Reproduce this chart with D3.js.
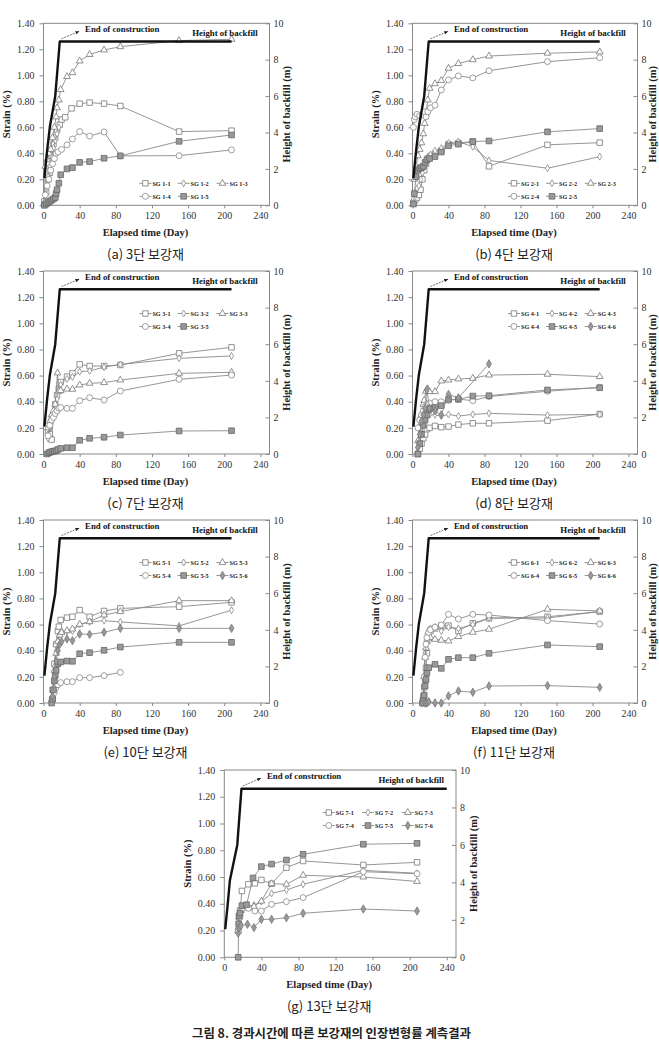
<!DOCTYPE html>
<html>
<head>
<meta charset="utf-8">
<script src="https://d3js.org/d3.v7.min.js"></script>
<style>
body { margin: 0; background: #fff; }
</style>
</head>
<body>
<script>

// backfill height (m) against elapsed day
var bfDays = [1, 4, 7, 13, 18, 208];
var bfHeight = [1.5, 3.0, 4.3, 6.0, 9.0, 9.0];
var bfDaysG = [1, 4, 6, 14, 18.5, 240];
var bfHeightG = [1.5, 3.0, 4.1, 6.0, 9.0, 9.0];

var xTicks = [0, 40, 80, 120, 160, 200, 240];
var strainTicks = [0, 0.2, 0.4, 0.6, 0.8, 1.0, 1.2, 1.4];
var heightTicks = [0, 2, 4, 6, 8, 10];

// strain gauges [day, strain %]
// (a) 3단
var sg1_1 = [[1,0.03],[3,0.1],[5,0.2],[7,0.25],[9,0.38],[11,0.47],[13,0.52],[15,0.58],[18,0.62],[20,0.66],[24,0.677],[31,0.746],[40,0.782],[51,0.79],[67,0.782],[85,0.764],[150,0.567],[208,0.574]];
var sg1_2 = [[1,0.02],[3,0.12],[5,0.22],[7,0.3],[9,0.38],[11,0.44],[13,0.5],[15,0.55],[17,0.6]];
var sg1_3 = [[1,0.02],[2,0.3],[4,0.35],[6,0.4],[8,0.43],[10,0.52],[12,0.6],[14,0.68],[15,0.75],[17,0.81],[19,0.89],[26,0.99],[32,1.02],[40,1.11],[51,1.16],[67,1.195],[85,1.22],[150,1.267],[208,1.277]];
var sg1_4 = [[2,0.08],[4,0.15],[6,0.2],[8,0.27],[10,0.32],[12,0.36],[14,0.4],[16,0.41],[20,0.43],[26,0.465],[32,0.51],[40,0.567],[51,0.533],[67,0.564],[85,0.38],[150,0.382],[208,0.426]];
var sg1_5 = [[1,0],[3,0.01],[5,0.02],[7,0.03],[9,0.04],[11,0.05],[13,0.06],[14,0.09],[15,0.12],[17,0.17],[19,0.235],[26,0.28],[32,0.29],[40,0.33],[51,0.336],[67,0.362],[85,0.38],[150,0.492],[208,0.541]];

// (b) 4단
var sg2_1 = [[1,0.02],[3,0.04],[5,0.06],[7,0.08],[9,0.12],[11,0.2],[13,0.27],[15,0.32],[17,0.36],[20,0.38],[25,0.4],[32,0.42],[40,0.47],[51,0.48],[67,0.49],[85,0.3],[150,0.465],[208,0.482]];
var sg2_2 = [[1,0.05],[3,0.1],[5,0.13],[7,0.15],[9,0.2],[11,0.25],[13,0.3],[15,0.34],[17,0.37],[20,0.39],[25,0.42],[32,0.44],[40,0.48],[51,0.49],[67,0.45],[85,0.345],[150,0.285],[208,0.374]];
var sg2_3 = [[2,0.2],[4,0.3],[6,0.38],[8,0.43],[10,0.48],[12,0.55],[13.5,0.63],[15,0.71],[17,0.81],[19,0.9],[25,0.935],[32,0.96],[40,1.054],[51,1.09],[67,1.12],[85,1.148],[150,1.17],[208,1.18]];
var sg2_4 = [[1,0.6],[2,0.66],[3,0.68],[5,0.7],[8,0.69],[11,0.7],[13,0.72],[15,0.68],[17,0.72],[20,0.75],[25,0.77],[32,0.887],[40,0.965],[51,0.995],[67,0.98],[85,1.035],[150,1.105],[208,1.135]];
var sg2_5 = [[1,0.01],[2,0.09],[4,0.22],[6,0.27],[8,0.285],[10,0.29],[12,0.3],[14,0.33],[16,0.35],[19,0.36],[25,0.375],[32,0.41],[40,0.458],[51,0.47],[67,0.49],[85,0.495],[150,0.565],[208,0.59]];

// (c) 7단
var sg3_1 = [[5,0.17],[7,0.15],[9,0.11],[11,0.3],[13,0.38],[15,0.45],[17,0.5],[19,0.55],[26,0.592],[32,0.617],[40,0.686],[51,0.673],[67,0.673],[85,0.681],[150,0.77],[208,0.816]];
var sg3_2 = [[5,0.12],[7,0.2],[9,0.28],[11,0.3],[13,0.35],[15,0.42],[17,0.5],[19,0.53],[26,0.575],[32,0.59],[40,0.63],[51,0.635],[67,0.665],[85,0.685],[150,0.732],[208,0.75]];
var sg3_3 = [[5,0.2],[7,0.25],[9,0.3],[11,0.33],[13,0.38],[15.5,0.62],[17,0.48],[19,0.485],[26,0.497],[32,0.495],[40,0.528],[51,0.541],[67,0.546],[85,0.566],[150,0.617],[208,0.625]];
var sg3_4 = [[5,0.14],[7,0.22],[9,0.26],[11,0.28],[13,0.31],[15,0.33],[17,0.35],[19,0.355],[26,0.349],[32,0.349],[40,0.408],[51,0.431],[67,0.413],[85,0.482],[150,0.571],[208,0.604]];
var sg3_5 = [[4,0],[6,0.01],[8,0.015],[10,0.02],[12,0.022],[14,0.025],[16,0.035],[19,0.043],[26,0.048],[32,0.048],[40,0.105],[51,0.12],[67,0.128],[85,0.145],[150,0.176],[208,0.178]];

// (d) 8단
var sg4_1 = [[6,0],[8,0.04],[10,0.08],[12,0.12],[14,0.15],[16,0.19],[19,0.2],[25,0.215],[32,0.205],[40,0.21],[51,0.225],[67,0.235],[85,0.235],[150,0.255],[208,0.305]];
var sg4_2 = [[6,0.05],[8,0.15],[10,0.22],[12,0.27],[14,0.29],[16,0.31],[19,0.3],[25,0.3],[32,0.29],[40,0.303],[51,0.29],[67,0.303],[85,0.311],[150,0.298],[208,0.303]];
var sg4_3 = [[6,0.1],[8,0.2],[10,0.3],[12,0.38],[13,0.41],[15,0.48],[16.7,0.5],[19,0.477],[25,0.477],[32,0.559],[40,0.566],[51,0.574],[67,0.579],[85,0.604],[150,0.61],[208,0.592]];
var sg4_4 = [[6,0.2],[8,0.26],[10,0.3],[12,0.33],[14,0.36],[16,0.38],[19,0.39],[25,0.4],[32,0.4],[40,0.41],[51,0.42],[67,0.408],[85,0.44],[150,0.48],[208,0.51]];
var sg4_5 = [[6,0],[8,0.08],[10,0.15],[12,0.22],[14,0.26],[16,0.3],[18,0.34],[20,0.35],[25,0.355],[32,0.37],[40,0.418],[51,0.418],[67,0.443],[85,0.446],[150,0.49],[208,0.507]];
var sg4_6 = [[6,0.05],[8,0.15],[10,0.25],[12,0.3],[14,0.35],[16,0.49],[19,0.35],[25,0.33],[32,0.3],[40,0.456],[51,0.43],[85,0.69]];

// (e) 10단
var sg5_1 = [[10,0.1],[12,0.3],[14,0.45],[16,0.55],[17,0.584],[19,0.635],[26,0.653],[32,0.66],[40,0.711],[51,0.66],[67,0.704],[85,0.724],[150,0.737],[208,0.77]];
var sg5_2 = [[10,0.1],[12,0.28],[14,0.4],[16,0.48],[18,0.53],[20,0.55],[26,0.55],[32,0.55],[40,0.6],[51,0.62],[67,0.63],[85,0.62],[150,0.59],[208,0.71]];
var sg5_3 = [[10,0.05],[12,0.25],[14,0.38],[16,0.47],[18,0.52],[20,0.54],[26,0.553],[32,0.566],[40,0.602],[51,0.622],[67,0.673],[85,0.699],[150,0.783],[208,0.783]];
var sg5_4 = [[10,0.02],[12,0.08],[14,0.12],[16,0.14],[19,0.156],[26,0.163],[32,0.163],[40,0.194],[51,0.194],[67,0.209],[85,0.235]];
var sg5_5 = [[9,0],[10,0.03],[11,0.1],[12,0.17],[13,0.21],[14,0.25],[16,0.3],[19,0.314],[26,0.321],[32,0.319],[40,0.377],[51,0.385],[67,0.403],[85,0.428],[150,0.464],[208,0.464]];
var sg5_6 = [[10,0.05],[12,0.2],[14,0.32],[16,0.4],[18,0.45],[20,0.47],[26,0.49],[32,0.477],[40,0.528],[51,0.525],[67,0.541],[85,0.571],[150,0.571],[208,0.571]];

// (f) 11단
var sg6_1 = [[12,0.05],[13,0.12],[14,0.18],[15,0.27],[16,0.38],[18,0.5],[20,0.55],[25,0.57],[32,0.592],[40,0.592],[51,0.551],[67,0.61],[85,0.648],[150,0.66],[208,0.699]];
var sg6_2 = [[12,0.05],[13,0.2],[14,0.38],[15,0.48],[16,0.53],[18,0.56],[20,0.57],[25,0.58],[32,0.55],[40,0.58],[51,0.57],[67,0.6],[85,0.65],[150,0.65],[208,0.7]];
var sg6_3 = [[12,0.05],[13,0.2],[14,0.35],[15,0.42],[16,0.47],[18,0.49],[20,0.5],[25,0.487],[32,0.48],[40,0.474],[51,0.508],[67,0.541],[85,0.564],[150,0.717],[208,0.704]];
var sg6_4 = [[12,0.05],[13,0.2],[14,0.35],[15,0.45],[16,0.5],[18,0.54],[20,0.56],[25,0.58],[32,0.597],[40,0.678],[51,0.643],[67,0.678],[85,0.673],[150,0.63],[208,0.604]];
var sg6_5 = [[11,0],[12,0.02],[13,0.06],[14,0.13],[15,0.18],[16,0.23],[18,0.27],[25,0.296],[32,0.265],[40,0.334],[51,0.347],[67,0.347],[85,0.38],[150,0.444],[208,0.431]];
var sg6_6 = [[11,0],[14,0],[16,0],[18,0.01],[25,0],[32,0],[40,0.054],[51,0.092],[67,0.082],[85,0.13],[150,0.133],[208,0.12]];

// (g) 13단
var sg7_1 = [[15,0.2],[16,0.3],[17,0.35],[19,0.496],[26,0.546],[33,0.553],[40,0.578],[51,0.55],[67,0.67],[85,0.72],[150,0.69],[208,0.71]];
var sg7_2 = [[15,0.2],[16,0.3],[18,0.36],[24,0.38],[32,0.39],[40,0.416],[51,0.478],[67,0.503],[85,0.546],[150,0.65],[208,0.628]];
var sg7_3 = [[15,0.2],[16,0.3],[18,0.35],[24,0.37],[32,0.38],[40,0.42],[51,0.55],[67,0.546],[85,0.613],[150,0.6],[208,0.567]];
var sg7_4 = [[15,0.19],[16,0.25],[17,0.3],[19,0.361],[26,0.366],[33,0.346],[40,0.346],[51,0.396],[67,0.416],[85,0.446],[150,0.64],[208,0.625]];
var sg7_5 = [[15,0],[15.5,0.25],[16,0.31],[17,0.33],[19,0.386],[24,0.393],[31,0.593],[40,0.678],[51,0.697],[67,0.727],[85,0.77],[150,0.845],[208,0.852]];
var sg7_6 = [[15,0.18],[16,0.22],[18,0.237],[25,0.247],[32,0.222],[40,0.284],[51,0.284],[67,0.296],[85,0.329],[150,0.361],[208,0.346]];

var panels = [
  {cap: "(a) 3단 보강재", box: [43.5, 269.5, 23.3, 205.3], legTop: false, bx: bfDays, by: bfHeight,
   series: [["SG 1-1", sg1_1], ["SG 1-2", sg1_2], ["SG 1-3", sg1_3], ["SG 1-4", sg1_4], ["SG 1-5", sg1_5]]},
  {cap: "(b) 4단 보강재", box: [412.5, 637.5, 23.3, 205.3], legTop: false, bx: bfDays, by: bfHeight,
   series: [["SG 2-1", sg2_1], ["SG 2-2", sg2_2], ["SG 2-3", sg2_3], ["SG 2-4", sg2_4], ["SG 2-5", sg2_5]]},
  {cap: "(c) 7단 보강재", box: [43.5, 269.5, 271, 454], legTop: true, bx: bfDays, by: bfHeight,
   series: [["SG 3-1", sg3_1], ["SG 3-2", sg3_2], ["SG 3-3", sg3_3], ["SG 3-4", sg3_4], ["SG 3-5", sg3_5]]},
  {cap: "(d) 8단 보강재", box: [412.5, 637.5, 271, 454], legTop: true, bx: bfDays, by: bfHeight,
   series: [["SG 4-1", sg4_1], ["SG 4-2", sg4_2], ["SG 4-3", sg4_3], ["SG 4-4", sg4_4], ["SG 4-5", sg4_5], ["SG 4-6", sg4_6]]},
  {cap: "(e) 10단 보강재", box: [43.5, 269.5, 520, 703], legTop: true, bx: bfDays, by: bfHeight,
   series: [["SG 5-1", sg5_1], ["SG 5-2", sg5_2], ["SG 5-3", sg5_3], ["SG 5-4", sg5_4], ["SG 5-5", sg5_5], ["SG 5-6", sg5_6]]},
  {cap: "(f) 11단 보강재", box: [412.5, 637.5, 520, 703], legTop: true, bx: bfDays, by: bfHeight,
   series: [["SG 6-1", sg6_1], ["SG 6-2", sg6_2], ["SG 6-3", sg6_3], ["SG 6-4", sg6_4], ["SG 6-5", sg6_5], ["SG 6-6", sg6_6]]},
  {cap: "(g) 13단 보강재", box: [224.3, 456, 770, 957.3], legTop: true, bx: bfDaysG, by: bfHeightG,
   series: [["SG 7-1", sg7_1], ["SG 7-2", sg7_2], ["SG 7-3", sg7_3], ["SG 7-4", sg7_4], ["SG 7-5", sg7_5], ["SG 7-6", sg7_6]]}
];

// marker style per gauge number (x-1 ... x-6)
var styles = [
  {sym: d3.symbolSquare, size: 30, fill: "#fff", stroke: "#777"},
  {sym: d3.symbolDiamond, size: 14, fill: "#fff", stroke: "#888"},
  {sym: d3.symbolTriangle, size: 20, fill: "#fff", stroke: "#777"},
  {sym: d3.symbolCircle, size: 28, fill: "#fff", stroke: "#888"},
  {sym: d3.symbolSquare, size: 32, fill: "#999", stroke: "#666"},
  {sym: d3.symbolDiamond, size: 20, fill: "#999", stroke: "#777"}
];

var serif = "'Liberation Serif', 'Times New Roman', serif";
var kr = "'Noto Sans CJK KR', sans-serif";

var svg = d3.select("body").append("svg")
    .attr("width", 659)
    .attr("height", 1043);

svg.append("defs").append("marker")
    .attr("id", "arr")
    .attr("viewBox", "0 0 10 10")
    .attr("refX", 8).attr("refY", 5)
    .attr("markerWidth", 6).attr("markerHeight", 6)
    .attr("orient", "auto")
  .append("path")
    .attr("d", "M0,1 L10,5 L0,9 Z")
    .attr("fill", "#222");

function drawPanel(p) {
  var left = p.box[0], right = p.box[1], top = p.box[2], bottom = p.box[3];
  var w = right - left;

  var x = d3.scaleLinear().domain([0, 250]).range([left, right]);
  var y = d3.scaleLinear().domain([0, 1.4]).range([bottom, top]);
  var yR = d3.scaleLinear().domain([0, 10]).range([bottom, top]);

  var g = svg.append("g");

  // frame
  g.append("rect")
      .attr("x", left).attr("y", top)
      .attr("width", w).attr("height", bottom - top)
      .attr("fill", "none")
      .attr("stroke", "#888")
      .attr("stroke-width", 1);

  var axL = g.append("g").attr("transform", "translate(" + left + ",0)")
      .call(d3.axisLeft(y).tickValues(strainTicks).tickFormat(d3.format(".2f")).tickSize(4).tickPadding(5));
  var axR = g.append("g").attr("transform", "translate(" + right + ",0)")
      .call(d3.axisRight(yR).tickValues(heightTicks).tickSize(-4).tickPadding(4));
  var axB = g.append("g").attr("transform", "translate(0," + bottom + ")")
      .call(d3.axisBottom(x).tickValues(xTicks).tickSize(3).tickPadding(4));

  [axL, axR, axB].forEach(function(a) {
    a.select(".domain").remove();
    a.selectAll("line").attr("stroke", "#888");
    a.selectAll("text")
        .attr("font-family", serif)
        .attr("font-size", 10)
        .attr("fill", "#333");
  });

  // axis titles
  g.append("text")
      .attr("transform", "translate(" + (left - 37) + "," + ((top + bottom) / 2) + ") rotate(-90)")
      .attr("text-anchor", "middle")
      .attr("dominant-baseline", "central")
      .attr("font-family", serif).attr("font-weight", "bold").attr("font-size", 10.5)
      .attr("fill", "#222")
      .text("Strain (%)");

  g.append("text")
      .attr("transform", "translate(" + Math.min(right + 17, 652) + "," + ((top + bottom) / 2) + ") rotate(-90)")
      .attr("text-anchor", "middle")
      .attr("dominant-baseline", "central")
      .attr("font-family", serif).attr("font-weight", "bold").attr("font-size", 10.5)
      .attr("fill", "#222")
      .text("Height of backfill (m)");

  g.append("text")
      .attr("x", (left + right) / 2 - 11)
      .attr("y", bottom + 27)
      .attr("text-anchor", "middle")
      .attr("dominant-baseline", "central")
      .attr("font-family", serif).attr("font-weight", "bold").attr("font-size", 10.5)
      .attr("fill", "#222")
      .text("Elapsed time (Day)");

  // gauge series
  var line = d3.line()
      .x(function(d) { return x(d[0]); })
      .y(function(d) { return y(d[1]); });

  p.series.forEach(function(s, i) {
    var st = styles[i];
    var sg = g.append("g");
    sg.append("path")
        .datum(s[1])
        .attr("d", line)
        .attr("fill", "none")
        .attr("stroke", "#8a8a8a")
        .attr("stroke-width", 0.9);
    sg.selectAll("path.pt")
        .data(s[1])
        .enter().append("path")
        .attr("class", "pt")
        .attr("transform", function(d) { return "translate(" + x(d[0]) + "," + y(d[1]) + ")"; })
        .attr("d", d3.symbol().type(st.sym).size(st.size))
        .attr("fill", st.fill)
        .attr("stroke", st.stroke)
        .attr("stroke-width", 0.8);
  });

  // backfill height on the right axis
  var bf = p.bx.map(function(d, i) { return [d, p.by[i]]; });
  g.append("path")
      .datum(bf)
      .attr("d", d3.line().x(function(d) { return x(d[0]); }).y(function(d) { return yR(d[1]); }))
      .attr("fill", "none")
      .attr("stroke", "#111")
      .attr("stroke-width", 2.4)
      .attr("stroke-linejoin", "round");

  // annotations
  g.append("line")
      .attr("x1", x(20)).attr("y1", yR(9.15))
      .attr("x2", x(39)).attr("y2", yR(9.55))
      .attr("stroke", "#333")
      .attr("stroke-width", 0.7)
      .attr("stroke-dasharray", "2,1")
      .attr("marker-end", "url(#arr)");

  g.append("text")
      .attr("x", x(46)).attr("y", yR(9.66))
      .attr("dominant-baseline", "central")
      .attr("font-family", serif).attr("font-weight", "bold").attr("font-size", 8.8)
      .attr("fill", "#111")
      .text("End of construction");

  g.append("text")
      .attr("x", x(237)).attr("y", yR(9.45))
      .attr("text-anchor", "end")
      .attr("dominant-baseline", "central")
      .attr("font-family", serif).attr("font-weight", "bold").attr("font-size", 8.8)
      .attr("fill", "#111")
      .text("Height of backfill");

  // legend, three per row
  var cols = [0.451, 0.62, 0.792];
  var ly0 = top + (p.legTop ? 42.5 : 160);
  p.series.forEach(function(s, i) {
    var st = styles[i];
    var cx = left + w * cols[i % 3];
    var cy = ly0 + Math.floor(i / 3) * 13;
    g.append("line")
        .attr("x1", cx - 6).attr("x2", cx + 6)
        .attr("y1", cy).attr("y2", cy)
        .attr("stroke", "#8a8a8a").attr("stroke-width", 0.9);
    g.append("path")
        .attr("transform", "translate(" + cx + "," + cy + ")")
        .attr("d", d3.symbol().type(st.sym).size(st.size))
        .attr("fill", st.fill)
        .attr("stroke", st.stroke)
        .attr("stroke-width", 0.8);
    g.append("text")
        .attr("x", cx + 7).attr("y", cy)
        .attr("dominant-baseline", "central")
        .attr("font-family", serif).attr("font-weight", "bold").attr("font-size", 6.2)
        .attr("fill", "#222")
        .text(s[0]);
  });

  // caption
  g.append("text")
      .attr("x", (left + right) / 2 - 11)
      .attr("y", bottom + 48)
      .attr("text-anchor", "middle")
      .attr("dominant-baseline", "central")
      .attr("font-family", kr).attr("font-size", 13)
      .attr("fill", "#222")
      .text(p.cap);
}

panels.forEach(drawPanel);

svg.append("text")
    .attr("x", 331.5)
    .attr("y", 1033)
    .attr("text-anchor", "middle")
    .attr("dominant-baseline", "central")
    .attr("font-family", kr).attr("font-weight", "bold").attr("font-size", 12.4)
    .attr("fill", "#222")
    .text("그림 8. 경과시간에 따른 보강재의 인장변형률 계측결과");

</script>
</body>
</html>
